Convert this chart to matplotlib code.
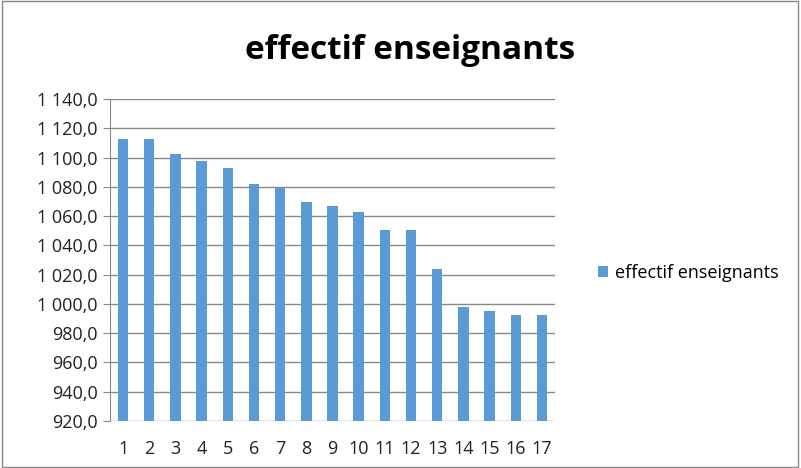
import matplotlib
matplotlib.use("Agg")
import matplotlib.pyplot as plt
from matplotlib.ticker import FuncFormatter

categories = [str(i) for i in range(1, 18)]
values = [1112.6, 1112.6, 1102.1, 1097.5, 1092.6, 1082.1, 1078.9, 1069.7, 1066.6,
          1063.0, 1050.3, 1050.3, 1023.7, 998.2, 995.2, 992.5, 992.5]
series_name = "effectif enseignants"
title = "effectif enseignants"

plt.rcParams['font.family'] = ['Open Sans', 'DejaVu Sans']

fig = plt.figure(figsize=(8.01, 4.68), dpi=100)
ax = fig.add_axes([0.1373, 0.1004, 0.5556, 0.6881])

x = list(range(len(categories)))
ax.bar(x, values, width=0.4, color='#5B9BD5', label=series_name, zorder=3)

ax.set_ylim(920, 1140)
ax.set_yticks(range(920, 1141, 20))
def fmt(v, pos):
    s = f"{v:,.1f}".replace(",", " ").replace(".", ",")
    return s
ax.yaxis.set_major_formatter(FuncFormatter(fmt))
ax.set_xlim(-0.5, len(categories) - 0.5)
ax.set_xticks(x)
ax.set_xticklabels(categories)

ax.grid(axis='y', color='#888888', linewidth=1, zorder=0)
for s in ['top', 'right', 'bottom']:
    ax.spines[s].set_visible(False)
ax.spines['left'].set_color('#888888')
ax.tick_params(axis='y', length=5, color='#888888', labelsize=13, pad=4)
ax.tick_params(axis='x', length=0, labelsize=13, pad=14)
for lbl in ax.get_yticklabels() + ax.get_xticklabels():
    lbl.set_color('#222222')

fig.text(0.512, 0.892, title, ha='center', va='center', fontsize=24, fontweight='bold', color='black')

leg = ax.legend(loc='center left', bbox_to_anchor=(1.06, 0.46), frameon=False,
                fontsize=13, handlelength=0.55, handleheight=0.55, handletextpad=0.4)

border = plt.Rectangle((0.002, 0.003), 0.994, 0.994, transform=fig.transFigure,
                       fill=False, edgecolor='#888888', linewidth=1)
fig.patches.append(border)

fig.savefig("out.png", dpi=100)
